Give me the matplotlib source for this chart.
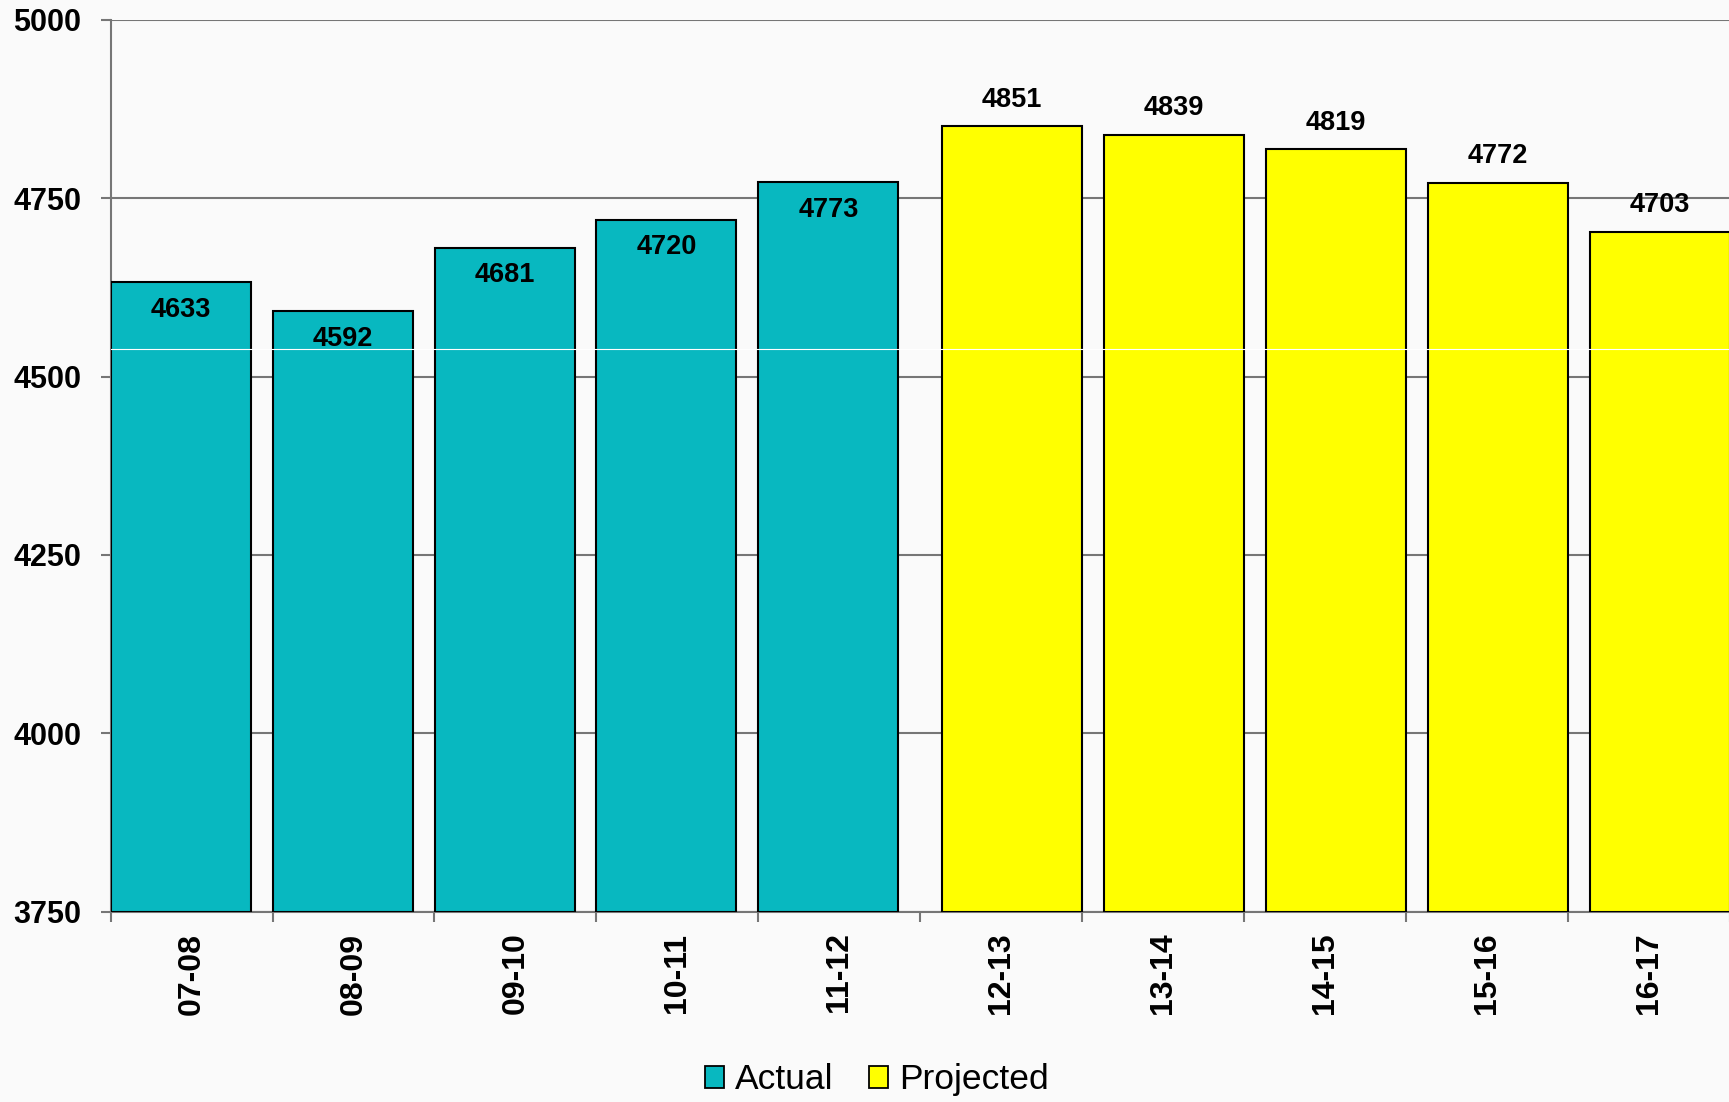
"""
Actual vs projected totals, clustered bars with value labels.
"""
import matplotlib
matplotlib.use("Agg")
import matplotlib.pyplot as plt
from matplotlib.patches import Patch
import numpy as np

plt.rcParams["font.family"] = ["Liberation Sans", "DejaVu Sans"]

# ── data ──────────────────────────────────────────────────────────────────────
years = ["07-08", "08-09", "09-10", "10-11", "11-12",
         "12-13", "13-14", "14-15", "15-16", "16-17"]
actual = [4633, 4592, 4681, 4720, 4773, None, None, None, None, None]
projected = [None, None, None, None, None, 4851, 4839, 4819, 4772, 4703]
y_ticks = [3750, 4000, 4250, 4500, 4750, 5000]

TEAL = "#08B8C0"
YELLOW = "#FFFF00"
GRID = "#767676"
BG = "#FAFAFA"

fig = plt.figure(figsize=(17.29, 11.02), dpi=100, facecolor=BG)
ax = fig.add_axes([0.064, 0.1727, 0.9364, 0.8092])
ax.set_facecolor(BG)

x = np.arange(len(years))
width = 0.865
shift = 0.067

for i, v in enumerate(actual):
    if v is None:
        continue
    ax.bar(x[i] - shift, v - 3750, bottom=3750, width=width, color=TEAL,
           edgecolor="black", lw=1.5, zorder=3)
    ax.annotate(f"{v}", (x[i] - shift, v), xytext=(0, -20),
                textcoords="offset points", ha="center", va="center",
                fontsize=19.5, fontweight="bold", zorder=5)

for i, v in enumerate(projected):
    if v is None:
        continue
    ax.bar(x[i] + shift, v - 3750, bottom=3750, width=width, color=YELLOW,
           edgecolor="black", lw=1.5, zorder=3)
    ax.annotate(f"{v}", (x[i] + shift, v), xytext=(0, 19),
                textcoords="offset points", ha="center", va="center",
                fontsize=19.5, fontweight="bold", zorder=5)

# faint white rule across the bars seen in the original slide
ax.axhline(4539, color="white", lw=0.8, zorder=4)

ax.set_ylim(3750, 5000)
ax.set_xlim(-0.5, len(years) - 0.5)
ax.set_yticks(y_ticks)
ax.set_yticklabels([str(t) for t in y_ticks], fontsize=22, fontweight="bold")
ax.yaxis.grid(True, color=GRID, lw=1.5, zorder=0)
ax.set_axisbelow(True)

# category boundaries get the tick marks, names sit between them
ax.set_xticks(np.arange(len(years) + 1) - 0.5)
ax.set_xticklabels([])
ax.set_xticks(x, minor=True)
ax.set_xticklabels(years, minor=True, rotation=90, fontsize=23,
                   fontweight="bold", va="top", ha="center")
ax.tick_params(axis="x", which="major", length=7, width=1.5, color=GRID,
               direction="out")
ax.tick_params(axis="x", which="minor", length=0, pad=15)
ax.tick_params(axis="y", length=7, width=1.5, color=GRID, direction="out",
               pad=14)

for side in ["top", "right"]:
    ax.spines[side].set_visible(False)
for side in ["left", "bottom"]:
    ax.spines[side].set_color(GRID)
    ax.spines[side].set_linewidth(1.5)

handles = [Patch(facecolor=TEAL, edgecolor="black", lw=1.3, label="Actual"),
           Patch(facecolor=YELLOW, edgecolor="black", lw=1.3, label="Projected")]
fig.legend(handles=handles, loc="center", bbox_to_anchor=(0.507, 0.02),
           ncol=2, frameon=False, fontsize=25.5, handlelength=0.55,
           handleheight=0.55, handletextpad=0.3, columnspacing=1.0,
           borderaxespad=0)

fig.savefig("out.png", dpi=100, facecolor=BG)
